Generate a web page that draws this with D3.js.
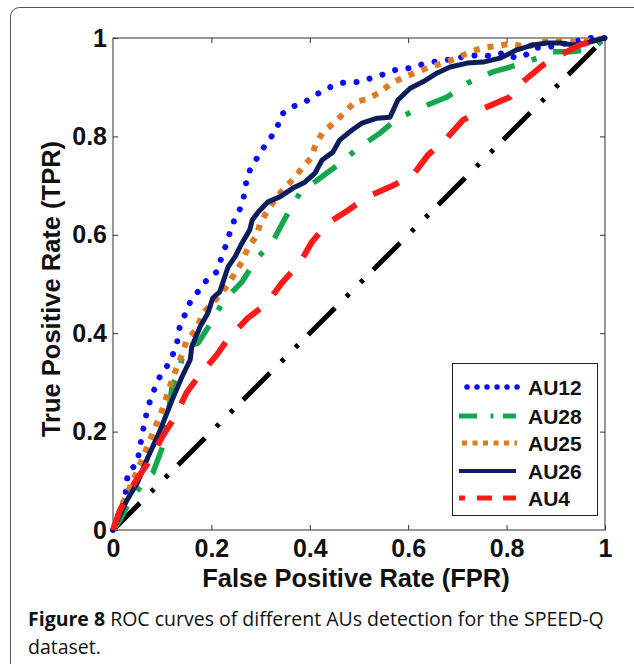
<!DOCTYPE html>
<html><head><meta charset="utf-8">
<script src="https://cdn.jsdelivr.net/npm/d3@7"></script>
<style>body{margin:0;background:#fff}</style>
</head><body><svg id="c" width="634" height="664"></svg>
<script>
const xTicks=[0,0.2,0.4,0.6,0.8,1];
const yTicks=[0,0.2,0.4,0.6,0.8,1];
const innerTicks=[0.2,0.4,0.6,0.8];
const seriesNames=["AU12","AU28","AU25","AU26","AU4"];
const xTitle="False Positive Rate (FPR)";
const yTitle="True Positive Rate (TPR)";

const chanceFPR=[0,1];
const chanceTPR=[0,1];

const au12FPR=[0,0.012,0.024,0.03,0.049,0.059,0.071,0.091,0.108,0.12,0.13,0.135,0.155,0.187,0.21,0.23,0.238,0.248,0.262,0.268,0.272,0.283,0.3,0.313,0.333,0.34,0.364,0.39,0.415,0.441,0.467,0.502,0.526,0.553,0.579,0.608,0.63,0.66,0.689,0.717,0.746,0.772,0.793,0.817,0.833,0.862,0.88,0.935,0.97,1];
const au12TPR=[0,0.03,0.06,0.116,0.136,0.193,0.25,0.305,0.33,0.352,0.38,0.41,0.46,0.504,0.524,0.58,0.606,0.634,0.66,0.687,0.717,0.742,0.766,0.789,0.813,0.843,0.86,0.87,0.886,0.9,0.909,0.911,0.919,0.927,0.937,0.939,0.947,0.953,0.957,0.963,0.965,0.963,0.97,0.96,0.962,0.98,0.98,0.992,1,1];

const au28FPR=[0,0.014,0.035,0.061,0.081,0.096,0.106,0.112,0.12,0.136,0.146,0.173,0.203,0.224,0.262,0.293,0.323,0.35,0.38,0.415,0.457,0.502,0.543,0.579,0.63,0.679,0.722,0.772,0.821,0.868,0.894,0.929,0.963,0.984,1];
const au28TPR=[0,0.02,0.061,0.095,0.116,0.156,0.183,0.235,0.291,0.331,0.372,0.38,0.427,0.465,0.504,0.553,0.583,0.634,0.685,0.711,0.742,0.779,0.807,0.837,0.86,0.88,0.909,0.931,0.945,0.961,0.972,0.972,0.976,0.986,1];

const au25FPR=[0,0.02,0.041,0.061,0.081,0.1,0.12,0.14,0.15,0.169,0.183,0.21,0.232,0.248,0.262,0.274,0.293,0.299,0.315,0.333,0.35,0.37,0.386,0.404,0.411,0.427,0.451,0.472,0.492,0.518,0.543,0.567,0.589,0.618,0.644,0.671,0.699,0.726,0.752,0.78,0.807,0.841,0.868,0.894,0.935,0.976,1];
const au25TPR=[0,0.055,0.102,0.148,0.197,0.244,0.305,0.356,0.386,0.407,0.441,0.47,0.496,0.522,0.545,0.573,0.6,0.624,0.65,0.677,0.697,0.717,0.738,0.758,0.782,0.809,0.829,0.85,0.87,0.876,0.89,0.909,0.919,0.931,0.941,0.949,0.959,0.972,0.98,0.984,0.988,0.982,0.99,0.996,0.992,0.996,1];

const au26FPR=[0,0.028,0.049,0.071,0.096,0.12,0.14,0.157,0.16,0.177,0.193,0.203,0.217,0.234,0.248,0.262,0.278,0.283,0.295,0.315,0.339,0.366,0.39,0.411,0.425,0.447,0.461,0.486,0.506,0.537,0.563,0.579,0.604,0.63,0.659,0.685,0.72,0.752,0.787,0.821,0.854,0.882,0.909,0.935,0.963,1];
const au26TPR=[0,0.06,0.095,0.148,0.203,0.264,0.311,0.346,0.372,0.413,0.441,0.472,0.484,0.535,0.555,0.583,0.61,0.63,0.646,0.667,0.677,0.695,0.707,0.726,0.752,0.768,0.793,0.813,0.827,0.837,0.839,0.874,0.898,0.911,0.929,0.941,0.949,0.951,0.959,0.976,0.986,0.99,0.99,0.986,0.99,1];

const au4FPR=[0,0.014,0.045,0.071,0.1,0.126,0.15,0.173,0.211,0.232,0.272,0.313,0.343,0.38,0.404,0.437,0.478,0.516,0.567,0.61,0.64,0.679,0.711,0.756,0.807,0.833,0.874,0.909,0.949,1];
const au4TPR=[0,0.04,0.098,0.136,0.189,0.23,0.28,0.311,0.356,0.386,0.429,0.461,0.502,0.543,0.585,0.624,0.65,0.677,0.699,0.722,0.762,0.797,0.833,0.858,0.88,0.911,0.945,0.965,0.986,1];

const svg=d3.select("#c");
// outer rounded frame
svg.append("rect").attr("x",10.5).attr("y",7.5).attr("width",640).attr("height",680)
  .attr("rx",9).attr("fill","#fff").attr("stroke","#555").attr("stroke-width",1);

const x=d3.scaleLinear().domain([0,1]).range([113,605]);
const y=d3.scaleLinear().domain([0,1]).range([530,38]);
const FONT="'Liberation Sans', Arial, Helvetica, sans-serif";

// axes
const gB=svg.append("g").attr("transform",`translate(0,${y(0)})`)
  .call(d3.axisBottom(x).tickValues(xTicks).tickSize(-5).tickPadding(9).tickFormat(d3.format("~g")));
const gL=svg.append("g").attr("transform",`translate(${x(0)},0)`)
  .call(d3.axisLeft(y).tickValues(yTicks).tickSize(-5).tickPadding(6).tickFormat(d3.format("~g")));
const gT=svg.append("g").attr("transform",`translate(0,${y(1)})`)
  .call(d3.axisTop(x).tickValues(innerTicks).tickSize(-5).tickFormat(""));
const gR=svg.append("g").attr("transform",`translate(${x(1)},0)`)
  .call(d3.axisRight(y).tickValues(innerTicks).tickSize(-5).tickFormat(""));
[gB,gL,gT,gR].forEach(g=>{
  g.select(".domain").remove();
  g.selectAll(".tick line").attr("stroke","#333").attr("stroke-width",1);
  g.selectAll("text").attr("font-family",FONT).attr("font-weight","bold").attr("font-size",25).attr("fill","#111");
});
svg.append("rect").attr("x",x(0)).attr("y",y(1)).attr("width",x(1)-x(0)).attr("height",y(0)-y(1))
  .attr("fill","none").attr("stroke","#333").attr("stroke-width",1);

// titles
svg.append("text").attr("x",356).attr("y",587).attr("text-anchor","middle")
  .attr("font-family",FONT).attr("font-weight","bold").attr("font-size",25.5).attr("fill","#111").text(xTitle);
svg.append("text").attr("transform","translate(60,289) rotate(-90)").attr("text-anchor","middle")
  .attr("font-family",FONT).attr("font-weight","bold").attr("font-size",25.5).attr("fill","#111").text(yTitle);

// lines
const line=d3.line().x(d=>x(d[0])).y(d=>y(d[1])).curve(d3.curveLinear);
const zip=(a,b)=>a.map((v,i)=>[v,b[i]]);
const styles={
  chance:{c:"#000",w:5,da:"38 16 4 16 4 14",cap:"butt"},
  AU12:{c:"#0a0aff",w:6,da:"0.01 13.5",cap:"round"},
  AU28:{c:"#14a84e",w:5.5,da:"28 18 5 18",cap:"butt"},
  AU25:{c:"#e07a22",w:6,da:"6 8",cap:"butt"},
  AU26:{c:"#0b1e5b",w:5,da:null,cap:"round"},
  AU4:{c:"#ff1a1a",w:6,da:"28 20",cap:"butt"}
};
const data={chance:zip(chanceFPR,chanceTPR),AU12:zip(au12FPR,au12TPR),AU28:zip(au28FPR,au28TPR),
  AU25:zip(au25FPR,au25TPR),AU26:zip(au26FPR,au26TPR),AU4:zip(au4FPR,au4TPR)};
["chance","AU12","AU28","AU25","AU26","AU4"].forEach(k=>{
  const s=styles[k];
  svg.append("path").datum(data[k]).attr("d",line).attr("fill","none")
    .attr("stroke",s.c).attr("stroke-width",s.w).attr("stroke-linecap",s.cap).attr("stroke-linejoin","round")
    .attr("stroke-dasharray",s.da);
});

// legend
const lg=svg.append("g");
lg.append("rect").attr("x",452.5).attr("y",363.5).attr("width",145).attr("height",152)
  .attr("fill","#fff").attr("stroke","#222").attr("stroke-width",1);
const legRowY=[387,416,443,471,498];
const legStyles={
  AU12:{x1:467,x2:518,da:"0.01 10",cap:"round",w:5.5},
  AU28:{x1:459,x2:516,da:"18 13.5 3 9.5 13 100",cap:"butt",w:5},
  AU25:{x1:462,x2:517,da:"5 5.5",cap:"butt",w:5},
  AU26:{x1:459,x2:516,da:null,cap:"butt",w:4},
  AU4:{x1:459,x2:516,da:"6 12 15 11 13 100",cap:"butt",w:5}
};
seriesNames.forEach((n,i)=>{
  const ls=legStyles[n];
  lg.append("line").attr("x1",ls.x1).attr("x2",ls.x2).attr("y1",legRowY[i]).attr("y2",legRowY[i])
    .attr("stroke",styles[n].c).attr("stroke-width",ls.w).attr("stroke-linecap",ls.cap).attr("stroke-dasharray",ls.da);
  lg.append("text").attr("x",528).attr("y",legRowY[i]).attr("dy","0.36em")
    .attr("font-family",FONT).attr("font-weight","bold").attr("font-size",21).attr("fill","#111").text(n);
});

// caption
const cap=svg.append("g").attr("font-family","'Open Sans', 'Noto Sans', sans-serif").attr("font-size",19.5).attr("fill","#111");
const t1=cap.append("text").attr("x",0).attr("y",0);
t1.append("tspan").attr("font-weight","bold").text("Figure 8");
t1.append("tspan").text(" ROC curves of different AUs detection for the SPEED-Q");
const t2=cap.append("text").attr("x",0).attr("y",28).text("dataset.");
const w1=t1.node().getComputedTextLength();
const sx=Math.min(1,581/w1);
cap.attr("transform",`translate(28,626) scale(${sx},1)`);
</script></body></html>
